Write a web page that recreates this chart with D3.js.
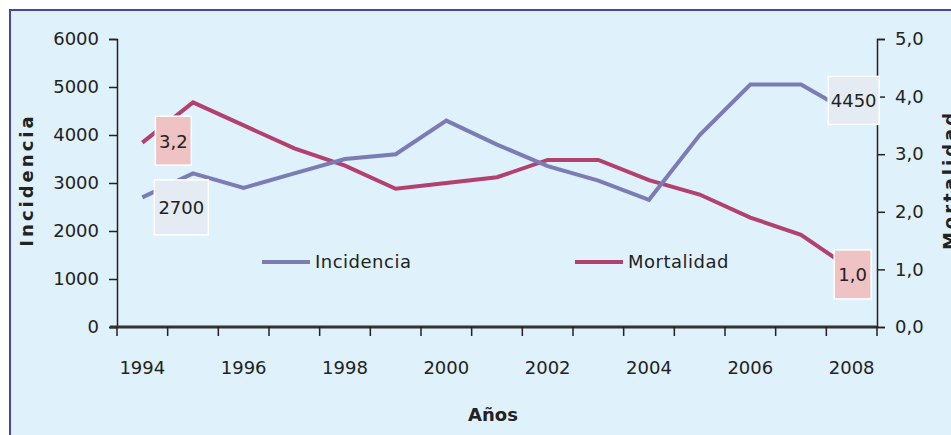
<!DOCTYPE html>
<html>
<head>
<meta charset="utf-8">
<script src="https://cdn.jsdelivr.net/npm/d3@7"></script>
<style>
  body { margin: 0; background: #fff; }
  text { font-family: "DejaVu Sans", sans-serif; fill: #222; }
</style>
</head>
<body>
<script>
// data
var years = [1994, 1995, 1996, 1997, 1998, 1999, 2000, 2001, 2002, 2003, 2004, 2005, 2006, 2007, 2008];
var incidencia = [2700, 3200, 2900, 3200, 3500, 3600, 4300, 3800, 3350, 3050, 2650, 4000, 5050, 5050, 4450];
var mortalidad = [3.2, 3.9, 3.5, 3.1, 2.8, 2.4, 2.5, 2.6, 2.9, 2.9, 2.55, 2.3, 1.9, 1.6, 1.0];
var leftTicks = [0, 1000, 2000, 3000, 4000, 5000, 6000];
var rightTicks = [0, 1, 2, 3, 4, 5];
var yearLabels = [1994, 1996, 1998, 2000, 2002, 2004, 2006, 2008];

var W = 951, H = 435;
var svg = d3.select("body").append("svg")
    .attr("width", W)
    .attr("height", H);

// panel
svg.append("rect")
    .attr("x", 10).attr("y", 10)
    .attr("width", 980).attr("height", 480)
    .attr("fill", "#dff1fb")
    .attr("stroke", "#4747a8")
    .attr("stroke-width", 2);

var x = d3.scaleBand().domain(years).range([117, 877]);
var yL = d3.scaleLinear().domain([0, 6000]).range([327, 39]);
var yR = d3.scaleLinear().domain([0, 5]).range([327, 39]);
var cx = function(d) { return x(d) + x.bandwidth() / 2; };

// left axis
var left = svg.append("g")
    .attr("transform", "translate(117,0)")
    .call(d3.axisLeft(yL).tickValues(leftTicks).tickSize(8).tickPadding(10).tickFormat(d3.format("d")));
left.selectAll("text").style("font-size", "18px").attr("fill", "#222");

// right axis
var right = svg.append("g")
    .attr("transform", "translate(877,0)")
    .call(d3.axisRight(yR).tickValues(rightTicks).tickSize(8).tickPadding(10)
      .tickFormat(function(d) { return d.toFixed(1).replace(".", ","); }));
right.selectAll("text").style("font-size", "18px").attr("fill", "#222");

svg.selectAll(".domain").attr("stroke", "#222").attr("stroke-width", 1.5);
svg.selectAll(".tick line").attr("stroke", "#222").attr("stroke-width", 1.5);

// x axis with ticks on band boundaries
var xAxis = svg.append("g").attr("class", "xaxis");
xAxis.append("line")
    .attr("x1", 110).attr("x2", 877)
    .attr("y1", yL(0)).attr("y2", yL(0))
    .attr("stroke", "#333").attr("stroke-width", 3);
xAxis.selectAll(".xt")
    .data(years.concat([2009]))
    .enter().append("line")
    .attr("x1", function(d) { return d === 2009 ? 877 : x(d); })
    .attr("x2", function(d) { return d === 2009 ? 877 : x(d); })
    .attr("y1", yL(0)).attr("y2", yL(0) + 9)
    .attr("stroke", "#222").attr("stroke-width", 1.5);
xAxis.selectAll(".xl")
    .data(yearLabels)
    .enter().append("text")
    .attr("x", cx)
    .attr("y", 374)
    .attr("text-anchor", "middle")
    .style("font-size", "18px")
    .text(function(d) { return d; });

// lines
var lineL = d3.line().x(function(d, i) { return cx(years[i]); }).y(function(d) { return yL(d); });
var lineR = d3.line().x(function(d, i) { return cx(years[i]); }).y(function(d) { return yR(d); });

svg.append("path")
    .datum(mortalidad)
    .attr("d", lineR)
    .attr("fill", "none")
    .attr("stroke", "#b2416f")
    .attr("stroke-width", 4);

svg.append("path")
    .datum(incidencia)
    .attr("d", lineL)
    .attr("fill", "none")
    .attr("stroke", "#7c7cb4")
    .attr("stroke-width", 4);

// data labels
var labels = [
  {t: "3,2", x: cx(1994) + 31, y: yR(mortalidad[0]) - 2, w: 36, h: 49, fill: "#efc3c3"},
  {t: "2700", x: cx(1994) + 39, y: yL(incidencia[0]) + 10, w: 54, h: 55, fill: "#e4ebf3"},
  {t: "4450", x: cx(2008) + 2, y: yL(incidencia[14]) - 13, w: 51, h: 48, fill: "#e4ebf3"},
  {t: "1,0", x: cx(2008) + 1, y: yR(mortalidad[14]) + 5, w: 37, h: 49, fill: "#efc3c3"}
];
var lg = svg.selectAll(".dl").data(labels).enter().append("g");
lg.append("rect")
    .attr("x", function(d) { return d.x - d.w / 2; })
    .attr("y", function(d) { return d.y - d.h / 2; })
    .attr("width", function(d) { return d.w; })
    .attr("height", function(d) { return d.h; })
    .attr("fill", function(d) { return d.fill; })
    .attr("stroke", "#fff")
    .attr("stroke-width", 1.5);
lg.append("text")
    .attr("x", function(d) { return d.x; })
    .attr("y", function(d) { return d.y + 7; })
    .attr("text-anchor", "middle")
    .style("font-size", "18px")
    .text(function(d) { return d.t; });

// legend
var legend = [
  {name: "Incidencia", color: "#7c7cb4", x: 262},
  {name: "Mortalidad", color: "#b2416f", x: 575}
];
var lgd = svg.selectAll(".lg").data(legend).enter().append("g")
    .attr("transform", function(d) { return "translate(" + d.x + ",262)"; });
lgd.append("line")
    .attr("x1", 0).attr("x2", 48)
    .attr("stroke", function(d) { return d.color; })
    .attr("stroke-width", 4);
lgd.append("text")
    .attr("x", 53).attr("y", 6)
    .style("font-size", "18px")
    .style("letter-spacing", "0.5px")
    .text(function(d) { return d.name; });

// axis titles
svg.append("text")
    .attr("transform", "translate(33,180) rotate(-90)")
    .attr("text-anchor", "middle")
    .style("font-size", "18px")
    .style("font-weight", "bold")
    .style("letter-spacing", "3px")
    .text("Incidencia");

svg.append("text")
    .attr("transform", "translate(956,180) rotate(-90)")
    .attr("text-anchor", "middle")
    .style("font-size", "18px")
    .style("font-weight", "bold")
    .style("letter-spacing", "3px")
    .text("Mortalidad");

svg.append("text")
    .attr("x", 493).attr("y", 421)
    .attr("text-anchor", "middle")
    .style("font-size", "18px")
    .style("font-weight", "bold")
    .text("Años");
</script>
</body>
</html>
